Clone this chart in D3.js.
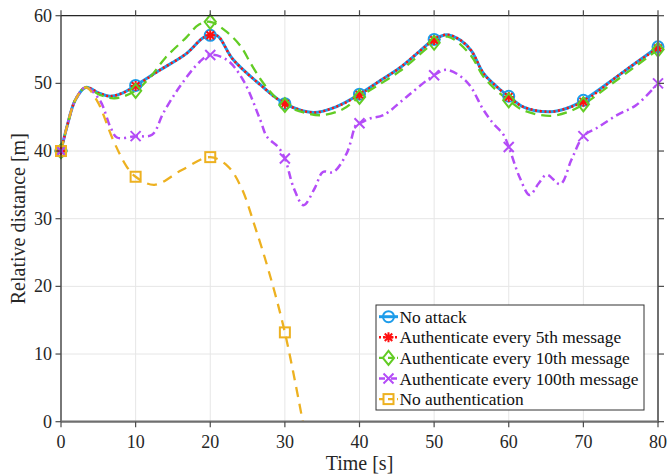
<!DOCTYPE html>
<html>
<head>
<meta charset="utf-8">
<script src="https://cdn.jsdelivr.net/npm/d3@7/dist/d3.min.js"></script>
<style>
  html, body { margin: 0; padding: 0; background: #fff; }
  svg { display: block; }
</style>
</head>
<body>
<svg id="chart" width="667" height="476"></svg>
<script>
// Relative distance between vehicles over time under different authentication policies
const xTicks = [0, 10, 20, 30, 40, 50, 60, 70, 80];
const yTicks = [0, 10, 20, 30, 40, 50, 60];

const seriesNames = [
  "No attack",
  "Authenticate every 5th message",
  "Authenticate every 10th message",
  "Authenticate every 100th message",
  "No authentication"
];

// No attack
const tNoAttack = [0, 0.8, 1.9, 3.3, 5.2, 6.6, 8.3, 10, 13.3, 16.8, 19, 20, 21, 23, 26.7, 30, 33.8, 37, 40, 42.5, 45.4, 48, 50, 51.7, 53.5, 55, 56.6, 58.4, 60, 62, 65.5, 68, 70, 74.5, 77, 80];
const vNoAttack = [40, 43.6, 47.5, 49.4, 48.5, 48.1, 48.6, 49.7, 52.0, 54.4, 56.7, 57.1, 57.0, 53.6, 49.8, 47.0, 45.7, 46.6, 48.4, 50.2, 52.3, 54.7, 56.5, 57.2, 56.4, 54.8, 51.5, 49.5, 48.1, 46.5, 45.8, 46.4, 47.5, 51.0, 53.0, 55.4];

// Authenticate every 5th message
const tEvery5 = tNoAttack;
const vEvery5 = [40, 43.6, 47.5, 49.4, 48.5, 48.1, 48.6, 49.6, 52.0, 54.4, 56.7, 57.1, 57.0, 53.6, 49.8, 47.0, 45.7, 46.6, 48.3, 50.2, 52.3, 54.7, 56.4, 57.2, 56.4, 54.8, 51.5, 49.5, 48.0, 46.5, 45.8, 46.4, 47.3, 51.0, 53.0, 55.2];

// Authenticate every 10th message
const tEvery10 = [0, 0.8, 1.9, 3.3, 5.2, 7.2, 10, 12, 14, 16.8, 18.5, 20, 22, 24, 25.5, 27, 28.5, 30, 32.5, 35, 37.8, 40, 45.4, 50, 51.8, 54.8, 56.6, 58.4, 60, 62, 65.5, 68, 70, 74.5, 80];
const vEvery10 = [40, 43.6, 47.5, 49.4, 48.3, 47.8, 48.9, 51.0, 53.8, 56.8, 58.7, 59.1, 57.8, 55.6, 52.8, 50.2, 48.2, 46.8, 45.7, 45.3, 46.2, 48.0, 51.8, 56.0, 56.9, 54.3, 51.0, 48.9, 47.5, 46.0, 45.2, 45.8, 46.9, 50.5, 55.0];

// Authenticate every 100th message
const tEvery100 = [0, 0.8, 1.9, 3.3, 5.2, 6.6, 7.5, 10, 12.2, 13.7, 15.9, 18.6, 20, 22.2, 24.4, 26.7, 27.6, 29.1, 30, 31.2, 32.5, 34, 35.1, 36.5, 38.3, 39.6, 40, 41.4, 43.2, 46.3, 50, 51.7, 54.4, 56.6, 57.9, 59.3, 60, 61.5, 62.8, 64, 65.1, 66.9, 68.4, 70, 71.8, 74.5, 77.1, 80];
const vEvery100 = [40, 43.6, 47.5, 49.4, 47.5, 43.6, 42.0, 42.2, 42.4, 45.6, 49.5, 53.2, 54.2, 53.5, 50.5, 44.6, 42.1, 40.6, 38.9, 34.5, 32.0, 34.5, 36.9, 36.9, 39.7, 44.0, 44.1, 44.8, 45.3, 48.0, 51.2, 52.0, 50.2, 46.1, 44.1, 42.4, 40.6, 36.0, 33.5, 35.2, 36.5, 35.1, 38.7, 42.2, 43.4, 45.3, 46.8, 50.0];

// No authentication
const tNoAuth = [0, 0.8, 1.9, 3.3, 4.8, 7.0, 8.8, 10, 12.5, 16.2, 20, 22.4, 24.2, 26, 27.8, 30, 32.4];
const vNoAuth = [40, 43.6, 47.5, 49.4, 47.5, 41.6, 37.7, 36.2, 35.0, 37.2, 39.1, 37.7, 34.5, 28.8, 22.4, 13.2, 0];

const FONT = "'Liberation Serif'";
const svg = d3.select("#chart");
const plot = { left: 61, right: 658, top: 15.7, bottom: 421.7 };

const x = d3.scaleLinear().domain([0, 80]).range([plot.left, plot.right]);
const y = d3.scaleLinear().domain([0, 60]).range([plot.bottom, plot.top]);

// grid
const grid = svg.append("g");
grid.selectAll("line.gx").data(xTicks).join("line")
  .attr("x1", d => x(d)).attr("x2", d => x(d))
  .attr("y1", plot.top).attr("y2", plot.bottom)
  .attr("stroke", "#e6e6e6").attr("stroke-width", 1);
grid.selectAll("line.gy").data(yTicks).join("line")
  .attr("x1", plot.left).attr("x2", plot.right)
  .attr("y1", d => y(d)).attr("y2", d => y(d))
  .attr("stroke", "#e6e6e6").attr("stroke-width", 1);

svg.append("defs").append("clipPath").attr("id", "clip")
  .append("rect").attr("x", plot.left).attr("y", plot.top - 10)
  .attr("width", plot.right - plot.left).attr("height", plot.bottom - plot.top + 10);

const line = d3.line().x(d => x(d[0])).y(d => y(d[1])).curve(d3.curveCatmullRom.alpha(0.5));

const styles = [
  { t: tNoAttack, v: vNoAttack, color: "#1d9cea", width: 3, dash: null, marker: "circle" },
  { t: tEvery5, v: vEvery5, color: "#ff1010", width: 2.5, dash: "2,2.6", marker: "asterisk" },
  { t: tEvery10, v: vEvery10, color: "#62cc24", width: 2.3, dash: "10,6", marker: "diamond" },
  { t: tEvery100, v: vEvery100, color: "#b44cf7", width: 2.5, dash: "8,4,2,4", marker: "cross" },
  { t: tNoAuth, v: vNoAuth, color: "#edb120", width: 2.3, dash: "10,7", marker: "square" }
];

function drawMarker(g, kind, cx, cy, color) {
  if (kind === "circle") {
    g.append("circle").attr("cx", cx).attr("cy", cy).attr("r", 5.5)
      .attr("fill", "none").attr("stroke", color).attr("stroke-width", 2);
  } else if (kind === "asterisk") {
    const r = 5;
    const p = d3.path();
    p.moveTo(cx - r, cy); p.lineTo(cx + r, cy);
    p.moveTo(cx, cy - r); p.lineTo(cx, cy + r);
    const k = r * 0.75;
    p.moveTo(cx - k, cy - k); p.lineTo(cx + k, cy + k);
    p.moveTo(cx - k, cy + k); p.lineTo(cx + k, cy - k);
    g.append("path").attr("d", p.toString()).attr("stroke", color).attr("stroke-width", 2).attr("fill", "none");
  } else if (kind === "diamond") {
    const r = 7;
    g.append("path").attr("d", `M${cx},${cy - r}L${cx + r * 0.8},${cy}L${cx},${cy + r}L${cx - r * 0.8},${cy}Z`)
      .attr("fill", "none").attr("stroke", color).attr("stroke-width", 2);
  } else if (kind === "cross") {
    const r = 5;
    g.append("path").attr("d", `M${cx - r},${cy - r}L${cx + r},${cy + r}M${cx - r},${cy + r}L${cx + r},${cy - r}`)
      .attr("stroke", color).attr("stroke-width", 2).attr("fill", "none");
  } else if (kind === "square") {
    const s = 5;
    g.append("rect").attr("x", cx - s).attr("y", cy - s).attr("width", 2 * s).attr("height", 2 * s)
      .attr("fill", "none").attr("stroke", color).attr("stroke-width", 2);
  }
}

const lines = svg.append("g").attr("clip-path", "url(#clip)");
styles.forEach(s => {
  const pts = s.t.map((t, i) => [t, s.v[i]]);
  const path = lines.append("path").datum(pts)
    .attr("d", line).attr("fill", "none")
    .attr("stroke", s.color).attr("stroke-width", s.width);
  if (s.dash) path.attr("stroke-dasharray", s.dash);
  const mg = svg.append("g");
  pts.filter(p => p[0] % 10 === 0).forEach(p => drawMarker(mg, s.marker, x(p[0]), y(p[1]), s.color));
});

// axes box
const ax = svg.append("g");
ax.append("line").attr("x1", plot.left).attr("x2", plot.right).attr("y1", plot.top).attr("y2", plot.top)
  .attr("stroke", "#262626").attr("stroke-width", 1.2);
ax.append("line").attr("x1", plot.left).attr("x2", plot.left).attr("y1", plot.top).attr("y2", plot.bottom)
  .attr("stroke", "#262626").attr("stroke-width", 1.2);
ax.append("line").attr("x1", plot.left).attr("x2", plot.right + 1).attr("y1", plot.bottom).attr("y2", plot.bottom)
  .attr("stroke", "#6f6f6f").attr("stroke-width", 2.2);
ax.append("line").attr("x1", plot.right).attr("x2", plot.right).attr("y1", plot.top).attr("y2", plot.bottom)
  .attr("stroke", "#6f6f6f").attr("stroke-width", 2);

// ticks outward on all sides
xTicks.forEach(t => {
  ax.append("line").attr("x1", x(t)).attr("x2", x(t)).attr("y1", plot.bottom).attr("y2", plot.bottom + 5.5)
    .attr("stroke", "#4a4a4a").attr("stroke-width", 1.2);
  ax.append("line").attr("x1", x(t)).attr("x2", x(t)).attr("y1", plot.top).attr("y2", plot.top - 5.5)
    .attr("stroke", "#4a4a4a").attr("stroke-width", 1.2);
});
yTicks.forEach(t => {
  ax.append("line").attr("x1", plot.left).attr("x2", plot.left - 5.5).attr("y1", y(t)).attr("y2", y(t))
    .attr("stroke", "#4a4a4a").attr("stroke-width", 1.2);
  ax.append("line").attr("x1", plot.right).attr("x2", plot.right + 6).attr("y1", y(t)).attr("y2", y(t))
    .attr("stroke", "#4a4a4a").attr("stroke-width", 1.2);
});

// tick labels
svg.append("g").selectAll("text").data(xTicks).join("text")
  .style("font-family", FONT)
  .attr("x", d => x(d)).attr("y", plot.bottom + 26)
  .attr("text-anchor", "middle").attr("font-size", 18).attr("fill", "#262626")
  .text(d => d);
svg.append("g").selectAll("text").data(yTicks).join("text")
  .style("font-family", FONT)
  .attr("x", plot.left - 9).attr("y", d => y(d) + 6)
  .attr("text-anchor", "end").attr("font-size", 18).attr("fill", "#262626")
  .text(d => d);

// axis titles
svg.append("text").style("font-family", FONT).attr("x", (plot.left + plot.right) / 2).attr("y", 470)
  .attr("text-anchor", "middle").attr("font-size", 20).attr("fill", "#262626").text("Time [s]");
svg.append("text").style("font-family", FONT).attr("transform", `translate(25,${(plot.top + plot.bottom) / 2}) rotate(-90)`)
  .attr("text-anchor", "middle").attr("font-size", 20).attr("fill", "#262626").text("Relative distance [m]");

// legend
const lg = svg.append("g");
const lx = 376, ly = 305, lw = 268, lh = 105;
lg.append("rect").attr("x", lx).attr("y", ly).attr("width", lw).attr("height", lh)
  .attr("fill", "#fff").attr("stroke", "#333").attr("stroke-width", 1);
styles.forEach((s, i) => {
  const yy = ly + 11.7 + i * 20.6;
  const l = lg.append("line").attr("x1", lx + 3).attr("x2", lx + 22).attr("y1", yy).attr("y2", yy)
    .attr("stroke", s.color).attr("stroke-width", s.width);
  if (s.dash) l.attr("stroke-dasharray", s.marker === "cross" ? "6,2,2,2" : (s.marker === "asterisk" ? "2,2" : "5,4"));
  drawMarker(lg, s.marker, lx + 12.5, yy, s.color);
  lg.append("text").style("font-family", FONT).attr("x", lx + 23.5).attr("y", yy + 6)
    .attr("font-size", 17.4).attr("fill", "#111").text(seriesNames[i]);
});
</script>
</body>
</html>
